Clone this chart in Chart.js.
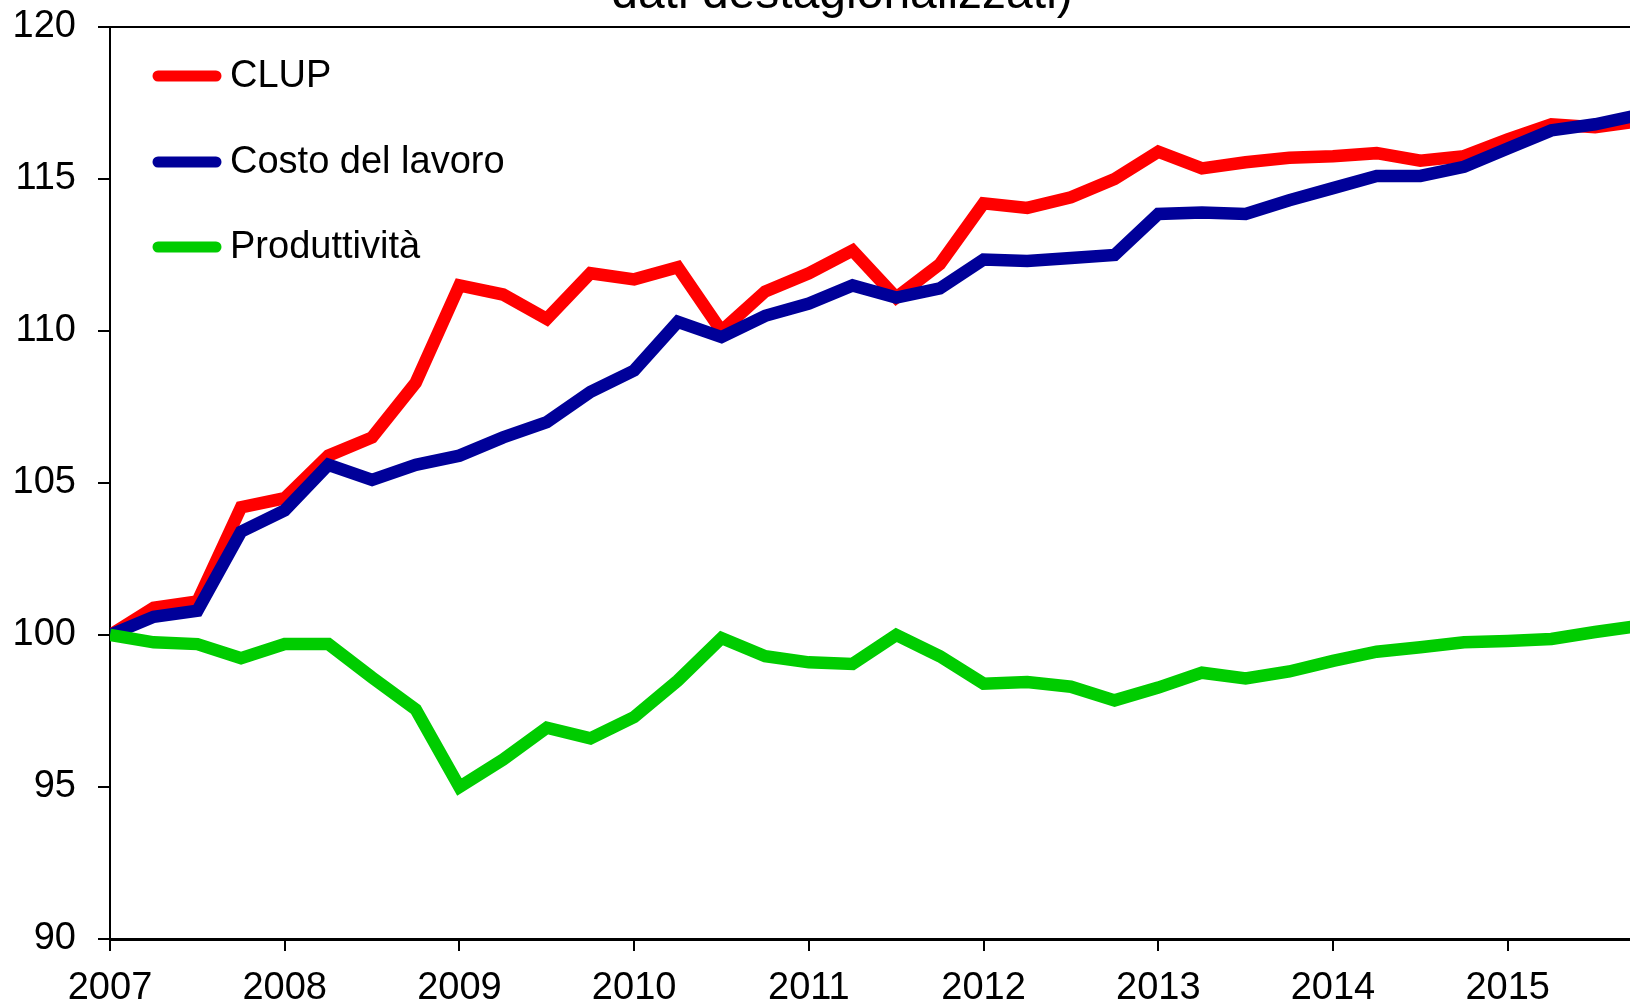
<!DOCTYPE html>
<html>
<head>
<meta charset="utf-8">
<script src="https://cdn.jsdelivr.net/npm/chart.js@4/dist/chart.umd.min.js"></script>
<style>
  html, body { margin: 0; padding: 0; background: #fff; overflow: hidden; }
  #wrap { position: relative; width: 1630px; height: 1003px; }
  canvas { display: block; }
</style>
</head>
<body>
<div id="wrap"><canvas id="c" width="1630" height="1003"></canvas></div>
<script>
// ---- data (quarterly, 2007Q1 .. 2015Q4; index 2007Q1 = 100) ----
const quarters = [
  '2007Q1','2007Q2','2007Q3','2007Q4','2008Q1','2008Q2','2008Q3','2008Q4',
  '2009Q1','2009Q2','2009Q3','2009Q4','2010Q1','2010Q2','2010Q3','2010Q4',
  '2011Q1','2011Q2','2011Q3','2011Q4','2012Q1','2012Q2','2012Q3','2012Q4',
  '2013Q1','2013Q2','2013Q3','2013Q4','2014Q1','2014Q2','2014Q3','2014Q4',
  '2015Q1','2015Q2','2015Q3','2015Q4'
];
const clup = [
  100, 100.9, 101.1, 104.2, 104.5, 105.9, 106.5, 108.3,
  111.5, 111.2, 110.4, 111.9, 111.7, 112.1, 110.0, 111.3,
  111.9, 112.65, 111.1, 112.2, 114.2, 114.05, 114.4, 115.0,
  115.9, 115.35, 115.55, 115.7, 115.75, 115.85, 115.6, 115.75,
  116.3, 116.8, 116.7, 116.9
];
const costoLavoro = [
  100, 100.6, 100.8, 103.4, 104.1, 105.6, 105.1, 105.6,
  105.9, 106.5, 107.0, 108.0, 108.7, 110.3, 109.8, 110.5,
  110.9, 111.5, 111.1, 111.4, 112.35, 112.3, 112.4, 112.5,
  113.85, 113.9, 113.85, 114.3, 114.7, 115.1, 115.1, 115.4,
  116.0, 116.6, 116.8, 117.1
];
const produttivita = [
  100, 99.76, 99.7, 99.24, 99.7, 99.7, 98.6, 97.55,
  95.0, 95.9, 96.95, 96.6, 97.3, 98.5, 99.9, 99.3,
  99.1, 99.05, 100.0, 99.3, 98.4, 98.45, 98.3, 97.85,
  98.27, 98.76, 98.57, 98.8, 99.15, 99.45, 99.6, 99.76,
  99.8, 99.87, 100.1, 100.3
];
const seriesLabels = ['CLUP', 'Costo del lavoro', 'Produttività'];
const yearLabels = ['2007','2008','2009','2010','2011','2012','2013','2014','2015'];
const yTicks = [90, 95, 100, 105, 110, 115, 120];
const titleText = 'dati destagionalizzati)';

// ---- build ----
const toPoints = arr => arr.map((v, i) => ({ x: i, y: v }));
const FONT = "'Liberation Sans', Arial, sans-serif";

const legendPlugin = {
  id: 'insideLegend',
  afterDraw(chart) {
    const ctx = chart.ctx;
    const rows = [76, 162, 247];
    ctx.save();
    chart.data.datasets.forEach((ds, i) => {
      const y = rows[i];
      ctx.beginPath();
      ctx.lineCap = 'round';
      ctx.lineWidth = 11;
      ctx.strokeStyle = ds.borderColor;
      ctx.moveTo(158, y);
      ctx.lineTo(216, y);
      ctx.stroke();
      ctx.fillStyle = '#000';
      ctx.font = '38px ' + FONT;
      ctx.textBaseline = 'middle';
      ctx.textAlign = 'left';
      ctx.fillText(ds.label, 230, y + 1);
    });
    ctx.restore();
  }
};

const titlePlugin = {
  id: 'clippedTitle',
  afterDraw(chart) {
    const ctx = chart.ctx;
    ctx.save();
    ctx.fillStyle = '#000';
    ctx.font = '48px ' + FONT;
    ctx.textAlign = 'center';
    ctx.textBaseline = 'alphabetic';
    ctx.fillText(titleText, 842, 8);
    ctx.restore();
  }
};

function zeroPad(scale) {
  scale.paddingTop = 0; scale.paddingBottom = 0;
  scale.paddingLeft = 0; scale.paddingRight = 0;
}

new Chart(document.getElementById('c'), {
  type: 'line',
  data: {
    datasets: [
      { label: seriesLabels[0], data: toPoints(clup), borderColor: '#FF0000', order: 2 },
      { label: seriesLabels[1], data: toPoints(costoLavoro), borderColor: '#000099', order: 1 },
      { label: seriesLabels[2], data: toPoints(produttivita), borderColor: '#00CC00', order: 0 }
    ]
  },
  options: {
    responsive: false,
    animation: false,
    devicePixelRatio: 1,
    layout: { padding: { top: 27, left: 0, right: 0, bottom: 0 } },
    elements: {
      line: { borderWidth: 12.5, tension: 0, borderJoinStyle: 'miter', borderCapStyle: 'butt', fill: false },
      point: { radius: 0, hoverRadius: 0 }
    },
    plugins: {
      legend: { display: false },
      tooltip: { enabled: false },
      title: { display: false }
    },
    scales: {
      x: {
        type: 'linear',
        min: 0,
        max: 34.8,
        afterFit(scale) { scale.height = 64; zeroPad(scale); },
        afterBuildTicks(scale) {
          scale.ticks = yearLabels.map((_, i) => ({ value: i * 4 }));
        },
        ticks: {
          includeBounds: false,
          stepSize: 4,
          autoSkip: false,
          maxRotation: 0,
          color: '#000',
          padding: 15,
          font: { family: FONT, size: 38 },
          callback: (v) => yearLabels[Math.round(v / 4)]
        },
        grid: {
          drawOnChartArea: false,
          color: '#000',
          tickColor: '#000',
          tickLength: 12,
          lineWidth: 2
        },
        border: { display: true, color: '#000', width: 3 }
      },
      y: {
        min: 90,
        max: 120,
        afterFit(scale) { scale.width = 110; zeroPad(scale); },
        afterBuildTicks(scale) {
          scale.ticks = yTicks.map(v => ({ value: v }));
        },
        ticks: {
          stepSize: 5,
          color: '#000',
          padding: 22,
          font: { family: FONT, size: 38 }
        },
        grid: {
          drawOnChartArea: true,
          color: (c) => (c.tick && c.tick.value === 120) ? '#000' : 'rgba(0,0,0,0)',
          tickColor: '#000',
          tickLength: 12,
          lineWidth: 2
        },
        border: { display: true, color: '#000', width: 2 }
      }
    }
  },
  plugins: [legendPlugin, titlePlugin]
});
</script>
</body>
</html>
